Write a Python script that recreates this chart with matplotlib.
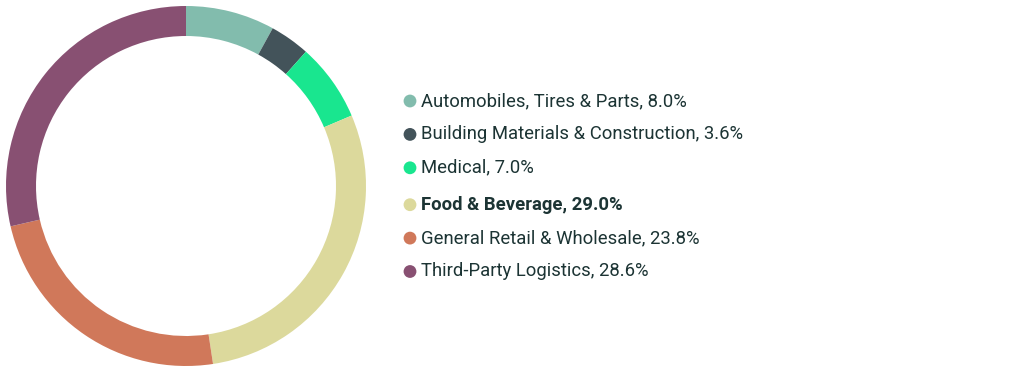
import matplotlib.pyplot as plt

plt.rcParams['font.family'] = ['Roboto', 'DejaVu Sans']

categories = ['Automobiles, Tires & Parts', 'Building Materials & Construction', 'Medical',
              'Food & Beverage', 'General Retail & Wholesale', 'Third-Party Logistics']
shares = [8.0, 3.6, 7.0, 29.0, 23.8, 28.6]
colors = ['#82bcad', '#43535a', '#19e68f', '#dcd99c', '#d0785a', '#885072']
highlight = 'Food & Beverage'
text_color = '#1c3434'

W, H = 1027, 373
fig = plt.figure(figsize=(W / 100, H / 100), dpi=100)

# donut
ax = fig.add_axes([6 / W, 7 / H, 360 / W, 360 / H])
ax.pie(shares, colors=colors, startangle=90, counterclock=False, radius=1,
       wedgeprops=dict(width=1 - 150 / 180, linewidth=0))
ax.set_xlim(-1, 1)
ax.set_ylim(-1, 1)
ax.set_aspect('equal')
ax.axis('off')

# legend
lax = fig.add_axes([0, 0, 1, 1])
lax.set_xlim(0, W)
lax.set_ylim(H, 0)
lax.axis('off')
y0, step = 101, 33.4
hi = categories.index(highlight)
for i, (cat, val, col) in enumerate(zip(categories, shares, colors)):
    y = y0 + i * step + (3.5 if i >= hi else 0)
    bold = cat == highlight
    lax.scatter([410], [y], s=85, color=col, edgecolors='none')
    lax.text(421, y, f'{cat}, {val:.1f}%', va='center', ha='left', fontsize=13.3,
             color=text_color, fontweight='bold' if bold else 'normal')

fig.savefig('out.png', dpi=100)
